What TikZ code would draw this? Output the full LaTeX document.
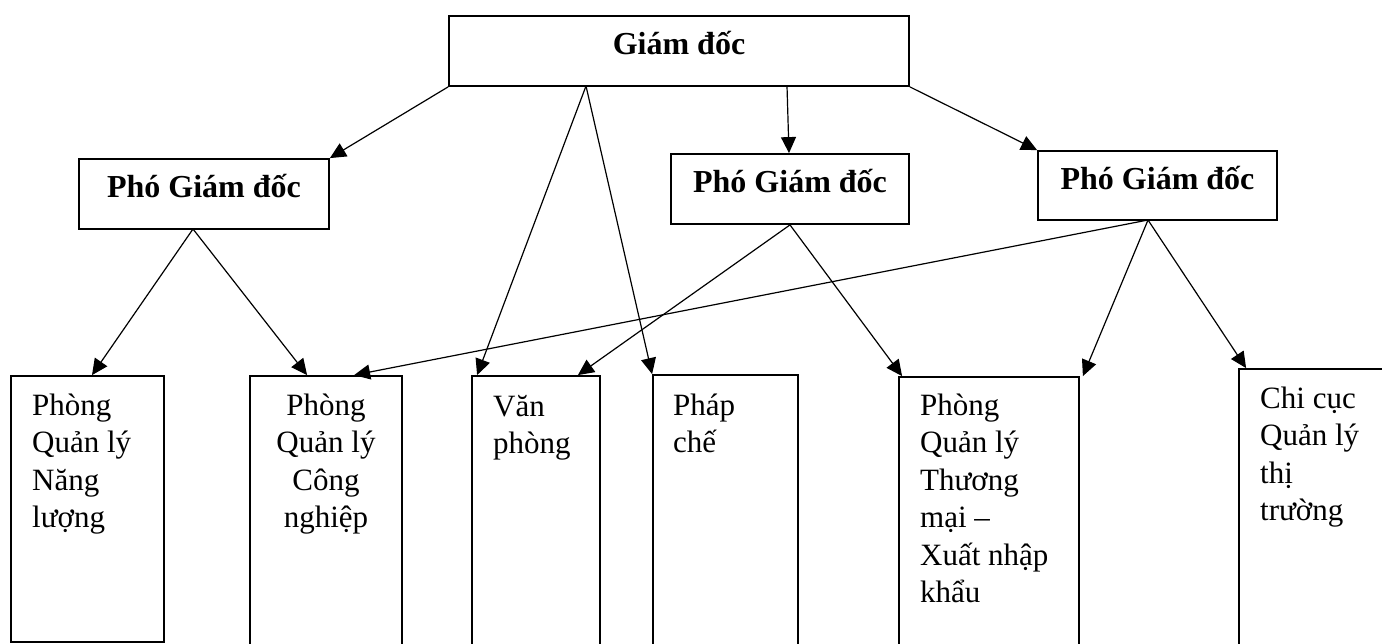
\documentclass[tikz,border=0pt]{standalone}
\usepackage{fontspec}
\setmainfont{Liberation Serif}
\usetikzlibrary{arrows.meta,fit}
\begin{document}
\begin{tikzpicture}[x=1pt,y=-1pt,
  box/.style={draw, line width=1.8pt, inner sep=0pt, fit={#1}},
  arr/.style={line width=1.2pt, -{Triangle[length=16pt,width=15pt]}},
  ttl/.style={anchor=base, inner sep=0pt, font=\fontsize{32}{38}\selectfont\bfseries},
  txt/.style={anchor=base west, inner sep=0pt},
  txtc/.style={anchor=base, inner sep=0pt}]
\useasboundingbox (0,0) rectangle (1382,644);
\clip (0,0) rectangle (1382,644);
\fill[white] (0,0) rectangle (1382,644);
% boxes
\node[box={(449,16) (909,86)}] (gd) {};
\node[box={(79,159) (329,229)}] (pgd1) {};
\node[box={(671,154) (909,224)}] (pgd2) {};
\node[box={(1038,151) (1277,220)}] (pgd3) {};
\node[box={(11,376) (164,642)}] (b1) {};
\node[box={(250,376) (402,660)}] (b2) {};
\node[box={(472,376) (600,660)}] (b3) {};
\node[box={(653,375) (798,660)}] (b4) {};
\node[box={(899,377) (1079,660)}] (b5) {};
\node[box={(1239,369) (1400,660)}] (b6) {};
% titles
\node[ttl] (tgd) at (679,55) {Giám đốc};
\node[ttl] (tp1) at (204,198) {Phó Giám đốc};
\node[ttl] (tp2) at (790,193) {Phó Giám đốc};
\node[ttl] (tp3) at (1157.5,190) {Phó Giám đốc};
% department texts
\newcommand{\deptfont}{\fontsize{31}{37.5}\selectfont}
\node[txt] (t1) at (32,415) {\parbox[t]{200pt}{\deptfont\raggedright Phòng\\Quản lý\\Năng\\lượng}};
\node[txtc] (t2) at (326,415) {\parbox[t]{150pt}{\deptfont\centering Phòng\\Quản lý\\Công\\nghiệp}};
\node[txt] (t3) at (493,416) {\parbox[t]{200pt}{\deptfont\raggedright Văn\\phòng}};
\node[txt] (t4) at (673,415) {\parbox[t]{200pt}{\deptfont\raggedright Pháp\\chế}};
\node[txt] (t5) at (920,415) {\parbox[t]{200pt}{\deptfont\raggedright Phòng\\Quản lý\\Thương\\mại –\\Xuất nhập\\khẩu}};
\node[txt] (t6) at (1260,408) {\parbox[t]{200pt}{\deptfont\raggedright Chi cục\\Quản lý\\thị\\trường}};
% connector origins
\coordinate (gdA) at (586,86);
\coordinate (gdB) at (787,86);
\coordinate (p1A) at (193,229);
\coordinate (p3A) at (1148,220);
% connectors
\draw[arr] (gd.south west) -- (pgd1.north east);
\draw[arr] (gdA) -- ([xshift=6pt]b3.north west);
\draw[arr] (gdA) -- (b4.north west);
\draw[arr] (gdB) -- ([xshift=-1pt]pgd2.north);
\draw[arr] (gd.south east) -- (pgd3.north west);
\draw[arr] (p1A) -- ([xshift=4.5pt]b1.north);
\draw[arr] (p1A) -- ([xshift=58pt]b2.north west);
\draw[arr] (pgd2.south) -- ([xshift=-23pt]b3.north east);
\draw[arr] (pgd2.south) -- ([xshift=4pt]b5.north west);
\draw[arr] (p3A) -- ([xshift=105pt]b2.north west);
\draw[arr] (p3A) -- ([xshift=3pt]b5.north east);
\draw[arr] (p3A) -- ([xshift=8pt]b6.north west);
\end{tikzpicture}
\end{document}
